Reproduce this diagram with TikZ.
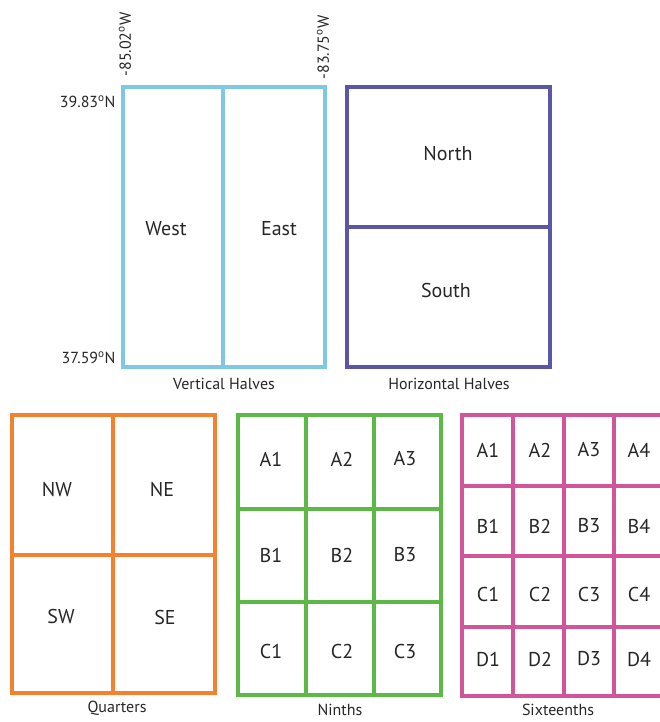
\documentclass[tikz,border=0pt]{standalone}
\usepackage{fontspec}
\setmainfont{PT Sans}
\usepackage{color}
\definecolor{HalfV}{HTML}{7EC8E3}
\definecolor{HalfH}{HTML}{5B57A6}
\definecolor{Quart}{HTML}{F3812F}
\definecolor{Ninth}{HTML}{5CB947}
\definecolor{Sixt}{HTML}{D2559A}

\begin{document}
\begin{tikzpicture}[x=1pt,y=-1pt,
    box/.style={line width=3.5pt},
    cell/.style={font=\fontsize{20}{22}\selectfont,text=black!85},
    caption/.style={font=\fontsize{16}{18}\selectfont,text=black!85},
    coord/.style={font=\fontsize{16}{18}\selectfont,text=black!85}]
        \useasboundingbox (0,0) rectangle (660,722);
        \begin{scope}
        \clip (0,0) rectangle (660,722);
        % vertical halves
        \draw[box,HalfV] (123,87) rectangle (325,367);
        \draw[box,HalfV] (223,87) -- (223,367);
        \node[cell] (west) at (166,229) {West};
        \node[cell] (east) at (279,229) {East};
        \node[caption] (vcap) at (224,384) {Vertical Halves};
        \node[coord,anchor=east] (lat1) at (119,102) {39.83\textsuperscript{o}N};
        \node[coord,anchor=east] (lat2) at (119,358) {37.59\textsuperscript{o}N};
        \node[coord,rotate=90,anchor=west] (lon1) at (125,80) {-85.02\textsuperscript{o}W};
        \node[coord,rotate=90,anchor=west] (lon2) at (323,83) {-83.75\textsuperscript{o}W};
        % horizontal halves
        \draw[box,HalfH] (347,87) rectangle (550,367);
        \draw[box,HalfH] (347,227) -- (550,227);
        \node[cell] (north) at (448,154) {North};
        \node[cell] (south) at (446,290) {South};
        \node[caption] (hcap) at (449,384) {Horizontal Halves};
        % quarters
        \draw[box,Quart] (12,415) rectangle (215,693);
        \draw[box,Quart] (113,415) -- (113,693);
        \draw[box,Quart] (12,555) -- (215,555);
        \node[cell] (nw) at (57,489) {NW};
        \node[cell] (ne) at (162,489) {NE};
        \node[cell] (sw) at (61,616) {SW};
        \node[cell] (se) at (165,617) {SE};
        \node[caption] (qcap) at (117,708) {Quarters};
        % ninths
        \draw[box,Ninth] (238,415) rectangle (441,695);
        \draw[box,Ninth] (306,415) -- (306,695);
        \draw[box,Ninth] (374,415) -- (374,695);
        \draw[box,Ninth] (238,509) -- (441,509);
        \draw[box,Ninth] (238,602) -- (441,602);
        \node[cell] (n11) at (271,459) {A1};
        \node[cell] (n12) at (342,459) {A2};
        \node[cell] (n13) at (405,459) {A3};
        \node[cell] (n21) at (271,555) {B1};
        \node[cell] (n22) at (342,555) {B2};
        \node[cell] (n23) at (405,555) {B3};
        \node[cell] (n31) at (271,651) {C1};
        \node[cell] (n32) at (342,651) {C2};
        \node[cell] (n33) at (405,651) {C3};
        \node[caption] (ncap) at (340,710) {Ninths};
        % sixteenths
        \draw[box,Sixt] (462,415) rectangle (665,696);
        \draw[box,Sixt] (513,415) -- (513,696);
        \draw[box,Sixt] (564,415) -- (564,696);
        \draw[box,Sixt] (614,415) -- (614,696);
        \draw[box,Sixt] (462,486) -- (665,486);
        \draw[box,Sixt] (462,556) -- (665,556);
        \draw[box,Sixt] (462,627) -- (665,627);
        \node[cell] (s11) at (488,450) {A1};
        \node[cell] (s12) at (540,450) {A2};
        \node[cell] (s13) at (589,450) {A3};
        \node[cell] (s14) at (639,450) {A4};
        \node[cell] (s21) at (488,526) {B1};
        \node[cell] (s22) at (540,526) {B2};
        \node[cell] (s23) at (589,526) {B3};
        \node[cell] (s24) at (639,526) {B4};
        \node[cell] (s31) at (488,594) {C1};
        \node[cell] (s32) at (540,594) {C2};
        \node[cell] (s33) at (589,594) {C3};
        \node[cell] (s34) at (639,594) {C4};
        \node[cell] (s41) at (488,659) {D1};
        \node[cell] (s42) at (540,659) {D2};
        \node[cell] (s43) at (589,659) {D3};
        \node[cell] (s44) at (639,659) {D4};
        \node[caption] (scap) at (558,710) {Sixteenths};
        \end{scope}
      \end{tikzpicture}
\end{document}
